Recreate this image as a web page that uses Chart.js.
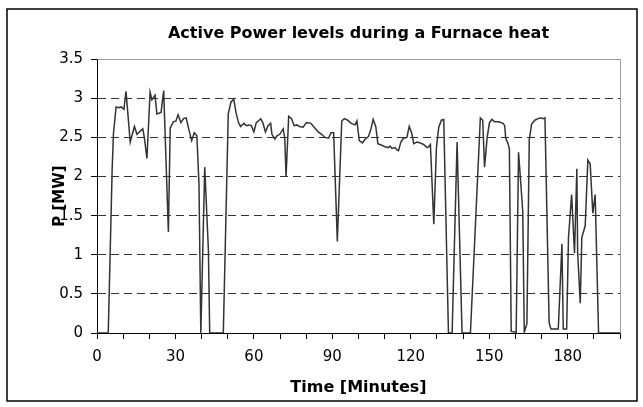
<!DOCTYPE html>
<html>
<head>
<meta charset="utf-8">
<script src="https://cdn.jsdelivr.net/npm/chart.js@4"></script>
<style>
  html, body { margin: 0; padding: 0; background: #fff; }
  #wrap { width: 643px; height: 407px; }
</style>
</head>
<body>
<div id="wrap"><canvas id="powerChart" width="643" height="407"></canvas></div>
<script>
// Furnace heat, active power readings
const minutes = [
  0, 4.3, 5.8, 6.3, 7.3, 8.3, 9.3, 10.3, 11.1, 12.7, 14.3, 15.3, 16.2, 17.5, 18.1, 19.1,
  20.3, 21.0, 22.2, 22.9, 24.5, 25.5, 27.3, 28.0, 29.2, 30.2, 31.0, 32.1, 33.1, 34.1, 35.2,
  36.2, 37.2, 38.2, 39.0, 39.7, 41.2, 42.6, 43.1, 48.3, 50.2, 51.2, 52.3, 53.2, 54.1, 54.9,
  56.2, 57.1, 58.1, 59.0, 60.0, 60.9, 62.0, 62.6, 63.5, 64.4, 65.4, 66.4, 66.9, 68.0, 68.8,
  69.9, 71.2, 71.8, 72.3, 73.3, 74.4, 75.4, 76.4, 77.4, 78.8, 80.1, 81.8, 83.3, 84.6, 85.9,
  87.2, 88.5, 89.5, 90.5, 91.9, 93.6, 94.6, 95.9, 97.2, 98.7, 99.4, 100.3, 101.5, 102.6,
  103.8, 104.7, 105.6, 106.6, 107.4, 108.9, 110.2, 111.5, 112.1, 112.8, 114.0, 114.7, 115.3,
  116.2, 117.2, 118.5, 119.4, 120.4, 121.1, 122.4, 123.6, 124.9, 126.2, 126.8, 127.5, 128.8,
  129.8, 130.7, 131.7, 132.6, 134.4, 135.8, 137.7, 139.6, 142.8, 146.6, 147.5, 148.2, 149.2,
  150.1, 151.0, 152.1, 153.6, 155.3, 155.9, 156.3, 157.2, 157.7, 158.4, 160.3, 161.2, 162.3,
  162.8, 163.4, 164.4, 165.3, 166.2, 167.4, 168.7, 169.7, 170.6, 171.3, 172.9, 173.6, 176.4,
  177.8, 178.3, 179.6, 180.3, 181.5, 182.6, 183.5, 183.8, 184.8, 185.4, 186.7, 187.7, 188.6,
  189.6, 190.5, 191.8, 200
];
const powerMW = [
  0, 0, 2.1, 2.55, 2.89, 2.88, 2.89, 2.86, 3.09, 2.44, 2.64, 2.54, 2.57, 2.61, 2.5, 2.23,
  3.08, 2.98, 3.04, 2.8, 2.82, 3.1, 1.29, 2.62, 2.7, 2.71, 2.79, 2.69, 2.74, 2.75, 2.59,
  2.46, 2.56, 2.52, 1.9, 0, 2.12, 1.06, 0, 0, 2.8, 2.95, 2.99, 2.81, 2.69, 2.64,
  2.68, 2.65, 2.66, 2.65, 2.57, 2.69, 2.72, 2.74, 2.68, 2.57, 2.65, 2.68, 2.54, 2.48, 2.52,
  2.54, 2.61, 2.49, 2.0, 2.77, 2.74, 2.65, 2.66, 2.64, 2.63, 2.69, 2.68, 2.62, 2.57, 2.54,
  2.5, 2.49, 2.56, 2.56, 1.17, 2.71, 2.74, 2.72, 2.68, 2.66, 2.71, 2.46, 2.43, 2.48,
  2.51, 2.6, 2.73, 2.64, 2.42, 2.4, 2.38, 2.37, 2.39, 2.36, 2.37, 2.34, 2.33,
  2.44, 2.49, 2.5, 2.64, 2.55, 2.42, 2.44, 2.43, 2.41, 2.37, 2.38, 2.41, 1.39,
  2.37, 2.63, 2.72, 2.73, 0, 0, 2.44, 0, 0, 2.75, 2.72, 2.12, 2.5,
  2.69, 2.73, 2.7, 2.7, 2.68, 2.65, 2.49, 2.42, 2.35, 0.02, 0.01, 2.31, 1.8,
  1.56, 0.01, 0.12, 2.47, 2.67, 2.72, 2.74, 2.75, 2.74, 2.75, 0.13, 0.05, 0.05,
  1.14, 0.05, 0.05, 1.22, 1.77, 1.02, 2.1, 1.03, 0.38, 1.22, 1.37, 2.21, 2.16,
  1.53, 1.77, 0, 0
];
const yTicks = [0, 0.5, 1, 1.5, 2, 2.5, 3, 3.5];
const xLabelEvery = 30;

Chart.defaults.font.family = "'DejaVu Sans', sans-serif";
Chart.defaults.color = "#000";

// gray plot-area border (top and right) plus the outer chart frame
const frames = {
  id: "frames",
  beforeDatasetsDraw(chart) {
    const { ctx, chartArea: a } = chart;
    ctx.save();
    ctx.strokeStyle = "#9a9a9a";
    ctx.lineWidth = 1;
    ctx.beginPath();
    ctx.moveTo(Math.round(a.left) + 0.5, Math.round(a.top) + 0.5);
    ctx.lineTo(Math.round(a.right) + 0.5, Math.round(a.top) + 0.5);
    ctx.lineTo(Math.round(a.right) + 0.5, Math.round(a.bottom) + 0.5);
    ctx.stroke();
    ctx.restore();
  },
  afterDraw(chart) {
    const ctx = chart.ctx;
    ctx.save();
    ctx.strokeStyle = "#000";
    ctx.lineWidth = 1.5;
    ctx.strokeRect(7, 9, 630, 392);
    ctx.restore();
  }
};

new Chart(document.getElementById("powerChart"), {
  type: "line",
  data: {
    datasets: [{
      label: "P",
      data: minutes.map((t, i) => ({ x: t, y: powerMW[i] })),
      borderColor: "#333",
      borderWidth: 1.5,
      pointRadius: 0,
      tension: 0,
      fill: false
    }]
  },
  options: {
    responsive: false,
    animation: false,
    layout: { padding: { left: 51, right: 23, top: 8, bottom: 8 } },
    plugins: {
      legend: { display: false },
      tooltip: { enabled: false },
      title: {
        display: true,
        fullSize: false,
        text: "Active Power levels during a Furnace heat",
        font: { size: 16, weight: "bold" },
        color: "#000",
        padding: { top: 16, bottom: 16 }
      }
    },
    scales: {
      x: {
        type: "linear",
        min: 0,
        max: 200,
        afterFit(scale) { scale.height = 66; },
        ticks: {
          stepSize: 10,
          autoSkip: false,
          maxRotation: 0,
          padding: 9,
          font: { size: 15 },
          color: "#000",
          callback: v => (v % xLabelEvery === 0 ? String(v) : "")
        },
        grid: { drawOnChartArea: false, drawTicks: true, tickLength: 6, tickColor: "#000" },
        border: { display: true, color: "#000", width: 1 },
        title: {
          display: true,
          text: "Time [Minutes]",
          font: { size: 16, weight: "bold" },
          color: "#000",
          padding: { top: 0, bottom: 2 }
        }
      },
      y: {
        min: 0,
        max: 3.5,
        afterFit(scale) { scale.width = 46; },
        afterBuildTicks(scale) { scale.ticks = yTicks.map(v => ({ value: v })); },
        ticks: { padding: 8, font: { size: 15 }, color: "#000", callback: v => String(v) },
        grid: {
          color: c => (c.tick && c.tick.value > 0 && c.tick.value < 3.5 ? "#333" : "rgba(0,0,0,0)"),
          tickColor: "#000",
          tickLength: 6,
          tickBorderDash: []
        },
        border: { display: true, color: "#000", width: 1, dash: [8, 5] },
        title: {
          display: true,
          text: "P [MW]",
          font: { size: 15, weight: "bold" },
          color: "#000",
          padding: { top: 0, bottom: 0 }
        }
      }
    }
  },
  plugins: [frames]
});
</script>
</body>
</html>
